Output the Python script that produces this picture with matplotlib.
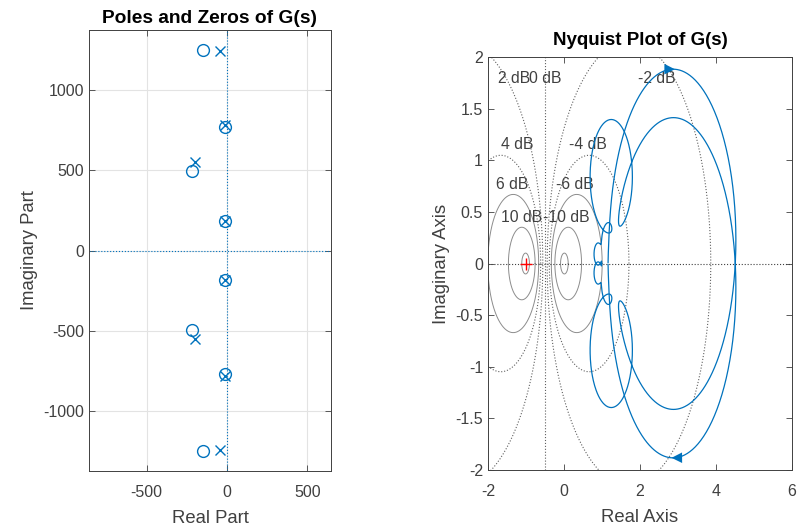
import numpy as np
import matplotlib.pyplot as plt

plt.rcParams['font.family'] = ['Liberation Sans', 'DejaVu Sans']
plt.rcParams['axes.unicode_minus'] = False

# poles / zeros of G(s) (upper half-plane, conjugates added below)
pole_re = [-41, -10, -200, -15]
pole_im = [1245, 781, 550, 183]
zero_re = [-150, -10, -220, -12]
zero_im = [1250, 773, 495, 183]
gain = 1.16

# M-circle levels (dB) of the Nyquist grid
m_levels = [-20, -10, -6, -4, -2, 2, 4, 6, 10, 20]
label_db = ['2 dB', '0 dB', '-2 dB', '4 dB', '-4 dB', '6 dB', '-6 dB', '10 dB', '-10 dB']
label_x = [-1.3, -0.5, 2.45, -1.23, 0.62, -1.37, 0.29, -1.12, 0.07]
label_y = [1.79, 1.79, 1.79, 1.15, 1.15, 0.77, 0.77, 0.45, 0.45]

blue = '#0072BD'
axcol = '#404040'

p = np.array(pole_re) + 1j * np.array(pole_im)
z = np.array(zero_re) + 1j * np.array(zero_im)
poles = np.concatenate([p, p.conj()])
zeros = np.concatenate([z, z.conj()])

fig = plt.figure(figsize=(7.98, 5.29), dpi=100)
ax1 = fig.add_axes([0.1115, 0.1096, 0.3033, 0.8337])
ax2 = fig.add_axes([0.6115, 0.1115, 0.381, 0.7807])

# ---- pole-zero map ----
ax1.axhline(0, color=blue, ls=':', lw=0.8, zorder=1)
ax1.axvline(0, color=blue, ls=':', lw=0.8, zorder=1)
ax1.plot(poles.real, poles.imag, 'x', color=blue, ms=7.5, mew=1.0, zorder=3)
ax1.plot(zeros.real, zeros.imag, 'o', color=blue, ms=8.5, mew=1.0, mfc='none', zorder=3)
ax1.set_xlim(-859, 647)
ax1.set_ylim(-1377, 1377)
ax1.set_xticks([-500, 0, 500])
ax1.set_yticks([-1000, -500, 0, 500, 1000])
ax1.grid(True, color='#e3e3e3', lw=0.8)
ax1.set_axisbelow(True)
ax1.set_title('Poles and Zeros of G(s)', fontsize=13.8, fontweight='bold', pad=5)
ax1.set_xlabel('Real Part', fontsize=13.3, color=axcol, labelpad=7)
ax1.set_ylabel('Imaginary Part', fontsize=13.3, color=axcol)

# ---- Nyquist plot ----
w = np.logspace(0, 4.5, 40000)
s = 1j * w
G = gain * np.prod([s - zz for zz in zeros], axis=0) / np.prod([s - pp for pp in poles], axis=0)

# M-circles: |G/(1+G)| = M
t = np.linspace(0, 2 * np.pi, 400)
for db in m_levels:
    M = 10 ** (db / 20)
    c = -M**2 / (M**2 - 1)
    r = abs(M / (M**2 - 1))
    small = abs(db) >= 6
    ax2.plot(c + r * np.cos(t), r * np.sin(t), color='#8c8c8c' if small else '#606060',
             ls='-' if small else ':', lw=0.7 if small else 0.8, zorder=1)
ax2.axvline(-0.5, color='#606060', ls=':', lw=0.8, zorder=1)
ax2.axhline(0, color='#404040', ls=':', lw=0.8, zorder=1)
for txt, lx, ly in zip(label_db, label_x, label_y):
    ax2.text(lx, ly, txt, ha='center', va='center', fontsize=11.3, color='#404040', zorder=2)

ax2.plot(G.real, G.imag, color=blue, lw=0.9, zorder=3)
ax2.plot(G.real, -G.imag, color=blue, lw=0.9, zorder=3)
ax2.plot(-1, 0, '+', color='red', ms=8, mew=1.0, zorder=4)

# direction arrows: lowest point of the w>0 branch and its mirror
i = np.argmin(G.imag)
k = 3
ax2.annotate('', xy=(G.real[i + k], G.imag[i + k]), xytext=(G.real[i - k], G.imag[i - k]),
             arrowprops=dict(arrowstyle='-|>', color=blue, lw=0, mutation_scale=19,
                             shrinkA=0, shrinkB=0), zorder=5)
ax2.annotate('', xy=(G.real[i - k], -G.imag[i - k]), xytext=(G.real[i + k], -G.imag[i + k]),
             arrowprops=dict(arrowstyle='-|>', color=blue, lw=0, mutation_scale=19,
                             shrinkA=0, shrinkB=0), zorder=5)

ax2.set_xlim(-2, 6)
ax2.set_ylim(-2, 2)
ax2.set_xticks([-2, 0, 2, 4, 6])
ax2.set_yticks(np.arange(-2, 2.01, 0.5))
ax2.set_yticklabels(['-2', '-1.5', '-1', '-0.5', '0', '0.5', '1', '1.5', '2'])
ax2.set_title('Nyquist Plot of G(s)', fontsize=13.5, fontweight='bold', pad=9)
ax2.set_xlabel('Real Axis', fontsize=13.3, color=axcol, labelpad=7)
ax2.set_ylabel('Imaginary Axis', fontsize=13.3, color=axcol)

for ax in (ax1, ax2):
    ax.tick_params(direction='in', top=True, right=True, labelsize=11.5, colors=axcol,
                   length=4, width=0.6)
    ax.tick_params(axis='x', pad=10)
    for sp in ax.spines.values():
        sp.set_color(axcol)
        sp.set_linewidth(0.7)

fig.savefig('out.png', dpi=100)
